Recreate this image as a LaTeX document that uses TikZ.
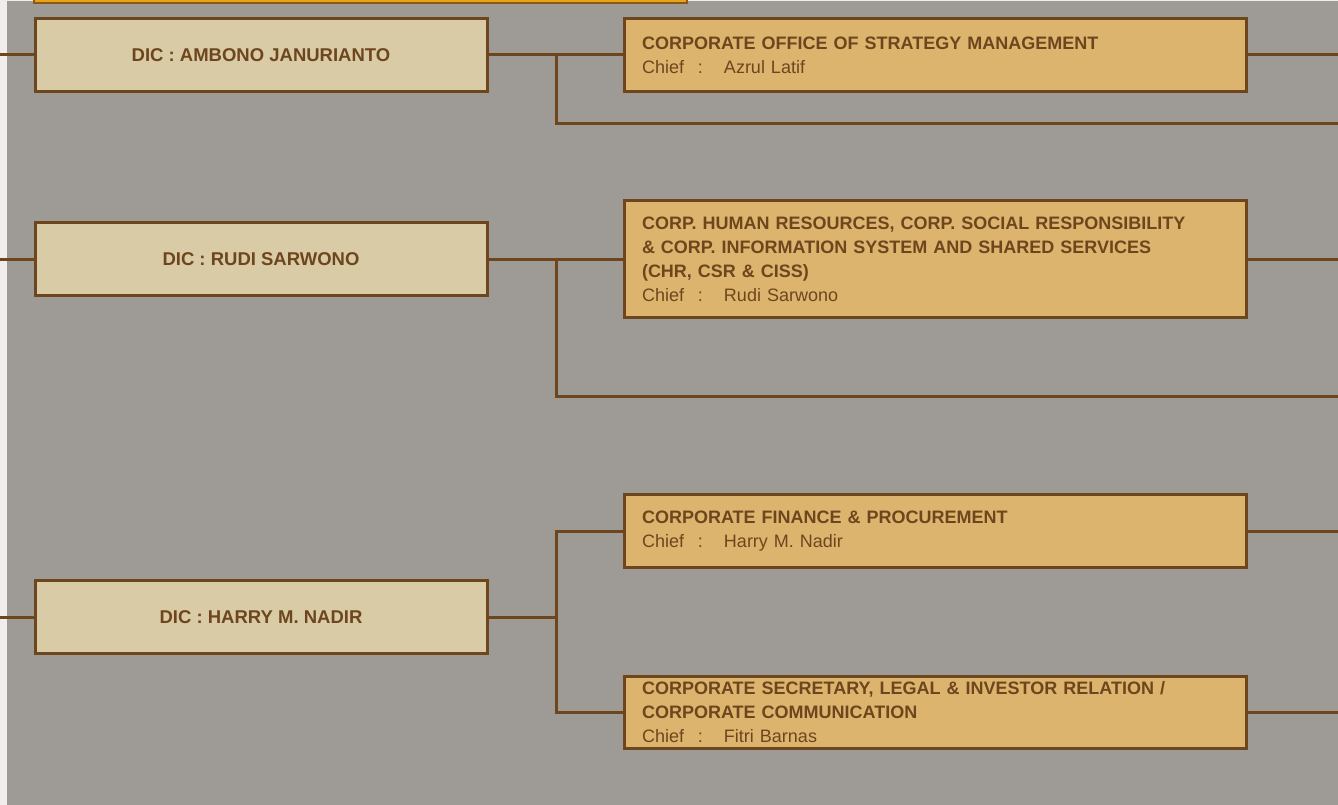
\documentclass[tikz,border=0pt]{standalone}
\usepackage{fontspec}
\setmainfont{Liberation Sans}
\usepackage{xcolor}
\definecolor{bggray}{HTML}{9E9B96}
\definecolor{sidewhite}{HTML}{EFEEEC}
\definecolor{dicfill}{HTML}{D8CBA6}
\definecolor{unitfill}{HTML}{DCB46E}
\definecolor{linebrown}{HTML}{6E461E}
\definecolor{topfill}{HTML}{E8A31C}
\definecolor{topline}{HTML}{8A5A14}

\newcommand{\chiefline}[1]{\makebox[56pt][l]{Chief}\makebox[26pt][l]{:}#1}

\tikzset{
  link/.style={draw=linebrown, line width=3pt},
  dicbox/.style={draw=linebrown, line width=3pt, fill=dicfill, text=linebrown,
    minimum width=452pt, minimum height=73pt, inner sep=0pt,
    font=\fontsize{18.5}{24}\selectfont\bfseries},
  unitbox/.style={draw=linebrown, line width=3pt, fill=unitfill, text=linebrown,
    minimum width=622pt, text width=586pt, align=left, inner xsep=18pt,
    inner ysep=0pt, font=\fontsize{18}{24}\selectfont}
}

\begin{document}
\begin{tikzpicture}[x=1pt,y=-1pt]
  \useasboundingbox (0,0) rectangle (1338,805);
  \clip (0,0) rectangle (1338,805);
  \fill[sidewhite] (0,0) rectangle (1338,805);
  \fill[bggray] (7,1) rectangle (1338,805);

  % box cut off at the top
  \draw[fill=topfill, draw=topline, line width=2pt] (34,-20) rectangle (687,3);

  % directors
  \node[dicbox] (dic1) at (261,55) {DIC : AMBONO JANURIANTO};
  \node[dicbox] (dic2) at (261,259) {DIC : RUDI SARWONO};
  \node[dicbox] (dic3) at (261,617) {DIC : HARRY M. NADIR};

  % units
  \node[unitbox, minimum height=73pt] (unit1) at (935,55)
    {\textbf{CORPORATE OFFICE OF STRATEGY MANAGEMENT}\\\chiefline{Azrul Latif}};
  \node[unitbox, minimum height=116pt] (unit2) at (935,259)
    {\textbf{CORP. HUMAN RESOURCES, CORP. SOCIAL RESPONSIBILITY}\\
     \textbf{\& CORP. INFORMATION SYSTEM AND SHARED SERVICES}\\
     \textbf{(CHR, CSR \& CISS)}\\\chiefline{Rudi Sarwono}};
  \node[unitbox, minimum height=73pt] (unit3) at (935,531)
    {\textbf{CORPORATE FINANCE \& PROCUREMENT}\\\chiefline{Harry M. Nadir}};
  \node[unitbox, minimum height=72pt] (unit4) at (935,712)
    {\textbf{CORPORATE SECRETARY, LEGAL \& INVESTOR RELATION /}\\
     \textbf{CORPORATE COMMUNICATION}\\\chiefline{Fitri Barnas}};

  % junctions and loose ends
  \coordinate (j1) at (556,55);
  \coordinate (j2) at (556,259);
  \coordinate (j3) at (556,617);
  \coordinate (r1) at (1338,124);
  \coordinate (r2) at (1338,396);
  \foreach \n/\y in {1/55,2/259,3/617}
    \coordinate (w\n) at (0,\y);
  \foreach \n/\y in {1/55,2/259,3/531,4/712}
    \coordinate (e\n) at (1338,\y);

  \foreach \n in {1,2,3}
    \draw[link] (w\n) -- (dic\n);
  \foreach \n in {1,2,3,4}
    \draw[link] (unit\n) -- (e\n);

  \draw[link] (dic1) -- (unit1);
  \draw[link] (j1) |- (r1);
  \draw[link] (dic2) -- (unit2);
  \draw[link] (j2) |- (r2);
  \draw[link] (dic3.east) -- (j3);
  \draw[link] (unit3.west) -| (j3) |- (unit4.west);
\end{tikzpicture}
\end{document}
